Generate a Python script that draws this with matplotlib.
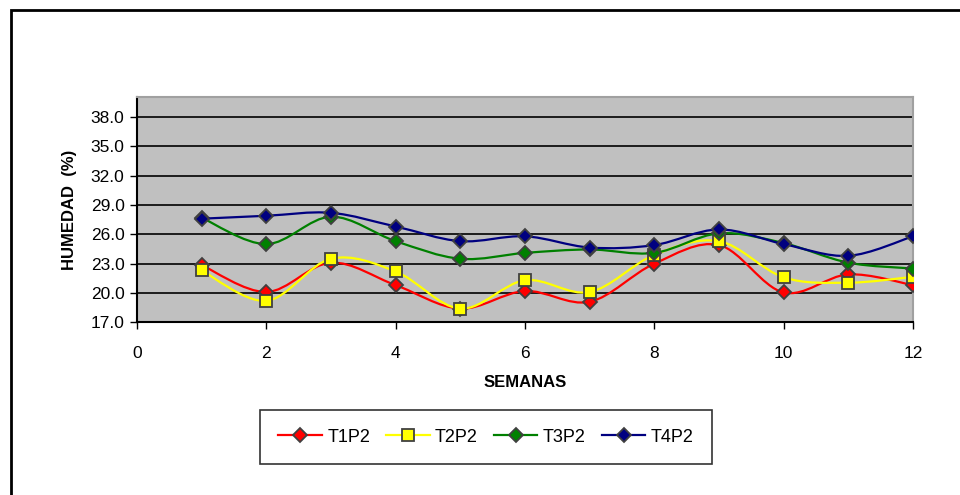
import matplotlib
matplotlib.use("Agg")
import matplotlib.pyplot as plt
from matplotlib.path import Path
from matplotlib.patches import PathPatch, Rectangle
from matplotlib.lines import Line2D
import numpy as np

plt.rcParams['font.family'] = ['Liberation Sans', 'DejaVu Sans']

weeks = [1, 2, 3, 4, 5, 6, 7, 8, 9, 10, 11, 12]
t1p2 = [22.85, 20.1, 23.1, 20.8, 18.4, 20.2, 19.1, 23.0, 24.9, 20.05, 21.9, 20.8]
t2p2 = [22.3, 19.2, 23.5, 22.2, 18.4, 21.3, 20.1, 23.9, 25.3, 21.6, 21.05, 21.65]
t3p2 = [27.7, 25.0, 27.8, 25.3, 23.5, 24.1, 24.45, 24.1, 26.1, 25.1, 23.1, 22.5]
t4p2 = [27.6, 27.9, 28.2, 26.8, 25.3, 25.8, 24.65, 24.9, 26.5, 25.0, 23.8, 25.8]
series_names = ['T1P2', 'T2P2', 'T3P2', 'T4P2']
yticks = [17.0, 20.0, 23.0, 26.0, 29.0, 32.0, 35.0, 38.0]
xticks = [0, 2, 4, 6, 8, 10, 12]

colors = ['#FF0000', '#FFFF00', '#008000', '#000080']
markers = ['D', 's', 'D', 'D']
msizes = [7, 9, 7, 7]

fig = plt.figure(figsize=(9.6, 4.95), dpi=100)
ax = fig.add_axes([137/960, 1 - 322.3/495, (913 - 137)/960, (322.3 - 97.5)/495])
ax.set_facecolor('#C0C0C0')


def smooth_path(xs, ys):
    pts = np.column_stack([xs, ys]).astype(float)
    n = len(pts)
    verts = [pts[0]]
    codes = [Path.MOVETO]
    for i in range(n - 1):
        p0 = pts[i - 1] if i > 0 else pts[i]
        p1 = pts[i]
        p2 = pts[i + 1]
        p3 = pts[i + 2] if i + 2 < n else pts[i + 1]
        c1 = p1 + (p2 - p0) / 6.0
        c2 = p2 - (p3 - p1) / 6.0
        verts += [c1, c2, p2]
        codes += [Path.CURVE4] * 3
    return Path(verts, codes)


data = [t1p2, t2p2, t3p2, t4p2]
for k, (vals, c, m, ms) in enumerate(zip(data, colors, markers, msizes)):
    patch = PathPatch(smooth_path(weeks, vals), facecolor='none', edgecolor=c,
                      lw=1.6, zorder=3 + 2 * k)
    ax.add_patch(patch)
    ax.plot(weeks, vals, linestyle='none', marker=m, markersize=ms,
            markerfacecolor=c, markeredgecolor='#404040', markeredgewidth=1.3,
            zorder=4 + 2 * k)

ax.set_xlim(0, 12)
ax.set_ylim(17, 40)
ax.set_yticks(yticks)
ax.set_yticklabels([f"{v:.1f}" for v in yticks], fontsize=12.5)
ax.set_xticks(xticks)
ax.set_xticklabels([str(v) for v in xticks], fontsize=12.5)
ax.yaxis.grid(True, color='black', lw=1.2)
ax.set_axisbelow(True)
ax.tick_params(axis='both', direction='out', length=5, width=1, color='black')
ax.tick_params(axis='x', pad=12)
ax.tick_params(axis='y', pad=4)
for s in ['top', 'right']:
    ax.spines[s].set_color('#A0A0A0')
    ax.spines[s].set_linewidth(1.5)
for s in ['left', 'bottom']:
    ax.spines[s].set_color('black')
    ax.spines[s].set_linewidth(1.5)

ax.set_ylabel('HUMEDAD  (%)', fontsize=12, fontweight='bold', labelpad=10)
ax.set_xlabel('SEMANAS', fontsize=12, fontweight='bold', labelpad=10)

handles = [Line2D([0], [0], color=c, lw=1.6, marker=m, markersize=ms,
                  markerfacecolor=c, markeredgecolor='#404040', markeredgewidth=1.3)
           for c, m, ms in zip(colors, markers, msizes)]
leg = fig.legend(handles, series_names, loc='center',
                 bbox_to_anchor=(486/960, 1 - 437/495), ncol=4, fontsize=13,
                 frameon=True, fancybox=False, handlelength=2.4, handletextpad=0.3,
                 columnspacing=0.9, borderpad=1.0, borderaxespad=0)
leg.get_frame().set_edgecolor('black')
leg.get_frame().set_linewidth(1.2)

fig.patches.append(Rectangle((11/960, -0.1), 1.0, 1 - 10/495 + 0.1,
                             transform=fig.transFigure, fill=False,
                             edgecolor='black', lw=2, zorder=10))

fig.savefig('out.png', dpi=100)
